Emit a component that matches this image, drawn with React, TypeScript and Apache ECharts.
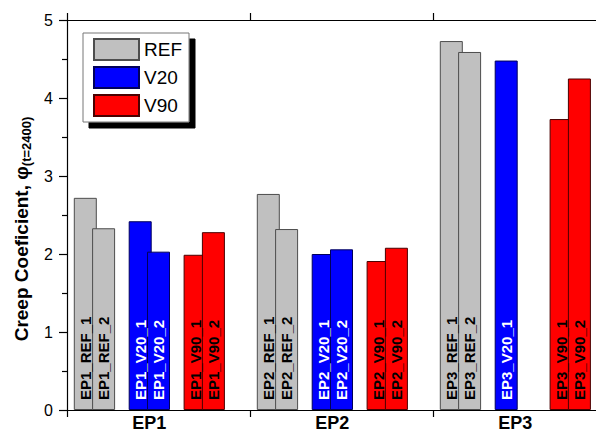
import React, { useEffect, useRef } from 'react';
import * as echarts from 'echarts';

// Mix groups along the x axis
const groups = ['EP1', 'EP2', 'EP3'];
// Creep coefficient per specimen (two specimens per mix where tested)
const refValues = [[2.72, 2.33], [2.77, 2.32], [4.73, 4.59]];
const v20Values = [[2.42, 2.03], [2.0, 2.06], [4.48]];
const v90Values = [[1.99, 2.28], [1.91, 2.08], [3.73, 4.25]];
const yTicks = [0, 1, 2, 3, 4, 5];

const FONT = 'Arial, "Liberation Sans", Helvetica, sans-serif';
const SLOT = 0.1;

function buildData(mix: string, values: number[][], firstSlot: number) {
  const out: { name: string; value: [number, number] }[] = [];
  values.forEach((specimens, g) => {
    specimens.forEach((v, i) => {
      out.push({
        name: `${groups[g]}_${mix}_${i + 1}`,
        value: [g + firstSlot + i * SLOT, v],
      });
    });
  });
  return out;
}

function barSeries(name: string, data: any[], fill: string, border: string, labelColor: string) {
  return {
    type: 'bar',
    name,
    data,
    xAxisIndex: 0,
    yAxisIndex: 0,
    barWidth: 23,
    barGap: '-100%',
    itemStyle: { color: fill, borderColor: border, borderWidth: 1 },
    label: {
      show: true,
      position: 'insideBottom',
      rotate: 90,
      align: 'left',
      verticalAlign: 'middle',
      distance: 10,
      formatter: (p: any) => p.name,
      fontFamily: FONT,
      fontSize: 15,
      fontWeight: 'bold',
      color: labelColor,
    },
    emphasis: { disabled: true },
  };
}

export default function App() {
  const ref = useRef<HTMLDivElement>(null);

  useEffect(() => {
    if (!ref.current) return;
    const chart = echarts.init(ref.current, undefined, { renderer: 'svg' });
    const axisLine = { show: true, lineStyle: { color: '#000', width: 1.2 } };
    const groupEdges = groups.map((_, g) => g).concat([groups.length]);

    chart.setOption({
      animation: false,
      backgroundColor: '#fff',
      grid: { left: 67, right: -20, top: 20, bottom: 23, containLabel: false, outerBoundsMode: 'none' },
      legend: {
        data: ['REF', 'V20', 'V90'],
        orient: 'vertical',
        left: 83,
        top: 33,
        icon: 'rect',
        itemWidth: 45,
        itemHeight: 21,
        itemGap: 5,
        padding: [5, 7, 5, 10],
        backgroundColor: '#fff',
        borderColor: '#777',
        borderWidth: 1,
        shadowColor: '#000',
        shadowBlur: 0,
        shadowOffsetX: 6,
        shadowOffsetY: 6,
        textStyle: { fontFamily: FONT, fontSize: 19, color: '#000' },
        selectedMode: false,
      },
      xAxis: [
        {
          type: 'value',
          position: 'bottom',
          min: 0,
          max: groups.length,
          interval: 1,
          axisLine,
          axisTick: { show: true, inside: false, length: 7, customValues: groupEdges, lineStyle: { color: '#000', width: 1.2 } },
          axisLabel: {
            show: true,
            customValues: groups.map((_, g) => g + 0.45),
            formatter: (v: number) => groups[Math.round(v - 0.45)] ?? '',
            margin: 4,
            fontFamily: FONT,
            fontSize: 18,
            fontWeight: 'bold',
            color: '#000',
          },
          splitLine: { show: false },
        },
        {
          type: 'value',
          position: 'top',
          min: 0,
          max: groups.length,
          interval: 1,
          axisLine,
          axisTick: { show: true, inside: false, length: 7, customValues: groupEdges, lineStyle: { color: '#000', width: 1.2 } },
          axisLabel: { show: false },
          splitLine: { show: false },
        },
      ],
      yAxis: {
        type: 'value',
        min: yTicks[0],
        max: yTicks[yTicks.length - 1],
        interval: 1,
        axisLine,
        axisTick: { show: true, inside: false, length: 8, lineStyle: { color: '#000', width: 1.2 } },
        minorTick: { show: true, splitNumber: 2, length: 5, lineStyle: { color: '#000', width: 1.2 } },
        axisLabel: { margin: 14, fontFamily: FONT, fontSize: 16, color: '#000' },
        splitLine: { show: false },
        minorSplitLine: { show: false },
        name: '{a|Creep Coeficient, \u03c6}{s|(t=2400)}',
        nameLocation: 'middle',
        nameRotate: 90,
        nameGap: 22,
        nameTextStyle: {
          padding: [0, 28, 0, 0],
          rich: {
            a: { fontFamily: FONT, fontSize: 19, fontWeight: 'bold', color: '#000', lineHeight: 21, verticalAlign: 'top' },
            s: { fontFamily: FONT, fontSize: 13, fontWeight: 'bold', color: '#000', lineHeight: 13, padding: [20, 0, 0, 0], verticalAlign: 'bottom' },
          },
        },
      },
      series: [
        barSeries('REF', buildData('REF', refValues, 0.1), '#c0c0c0', '#4d4d4d', '#000'),
        barSeries('V20', buildData('V20', v20Values, 0.4), '#0000ff', '#00005a', '#fff'),
        barSeries('V90', buildData('V90', v90Values, 0.7), '#ff0000', '#4a0000', '#000'),
      ],
    });

    return () => chart.dispose();
  }, []);

  return <div ref={ref} style={{ position: 'absolute', left: 0, top: 0, width: 596, height: 433 }} />;
}
